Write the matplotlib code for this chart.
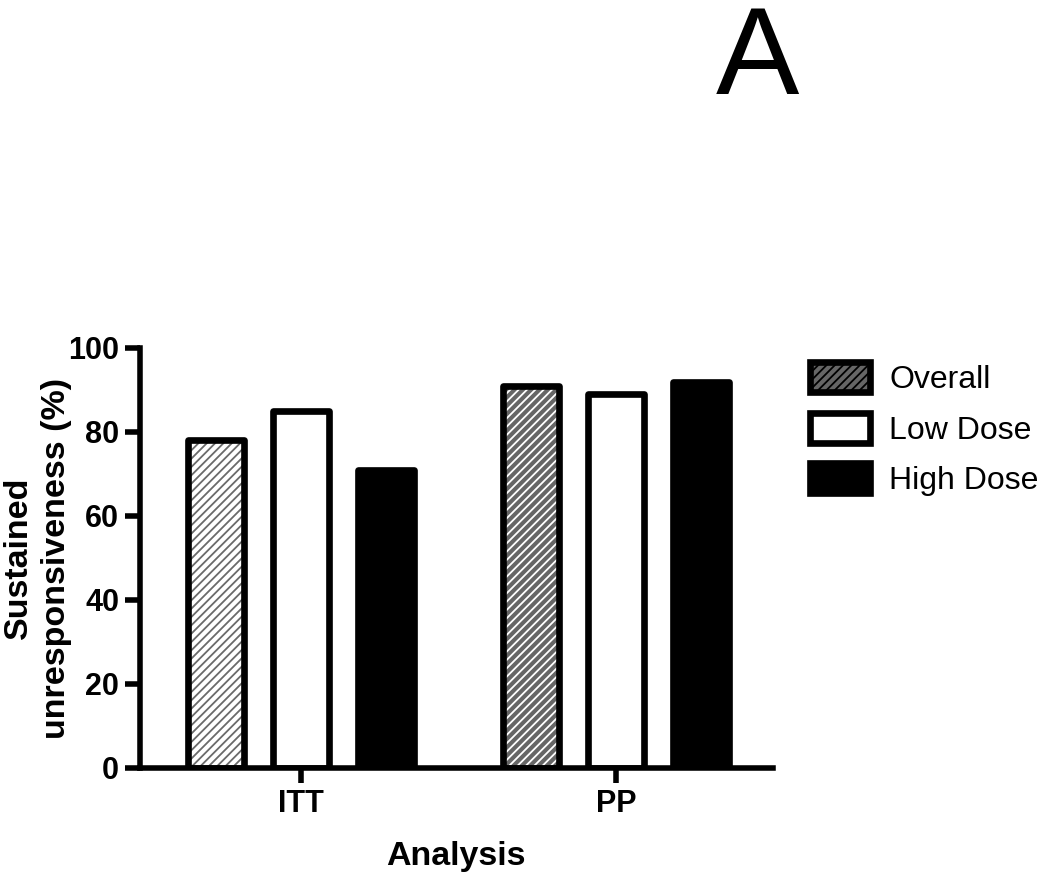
import matplotlib.pyplot as plt
import numpy as np
from matplotlib.patches import Rectangle

analyses = ["ITT", "PP"]
groups = ["Overall", "Low Dose", "High Dose"]
overall = [78, 91]
low_dose = [85, 89]
high_dose = [71, 92]

plt.rcParams['font.family'] = ['Liberation Sans', 'DejaVu Sans']
plt.rcParams['hatch.linewidth'] = 1.3

fig = plt.figure(figsize=(10.5, 8.75), dpi=100)
ax = fig.add_axes([0.1333, 0.1223, 0.6027, 0.48])

x = np.arange(len(analyses))
off = 0.27
w = 0.18
lw = 4.8

# overall: hatched, ITT light, PP dark
for i in range(len(analyses)):
    if i == 0:
        fc, hc = 'white', '#6a6a6a'
    else:
        fc, hc = '#666666', 'white'
    ax.bar(x[i] - off, overall[i], w, color=fc, edgecolor=hc, hatch='////', linewidth=0)
    ax.bar(x[i] - off, overall[i], w, fill=False, edgecolor='black', linewidth=lw,
           joinstyle='round')
ax.bar(x, low_dose, w, color='white', edgecolor='black', linewidth=lw, joinstyle='round')
ax.bar(x + off, high_dose, w, color='black', edgecolor='black', linewidth=lw,
       joinstyle='round')

ax.set_xlim(-0.511, 1.498)
ax.set_ylim(0, 100)
ax.set_yticks([0, 20, 40, 60, 80, 100])
ax.set_xticks(x)
ax.set_xticklabels(analyses)
for s in ['top', 'right']:
    ax.spines[s].set_visible(False)
for s in ['left', 'bottom']:
    ax.spines[s].set_linewidth(4)
ax.tick_params(width=4, length=11, labelsize=22, pad=4)
for lab in ax.get_xticklabels() + ax.get_yticklabels():
    lab.set_fontweight('bold')
ax.set_xlabel("Analysis", fontsize=24.5, fontweight='bold', labelpad=16)
ax.set_ylabel("Sustained\nunresponsiveness (%)", fontsize=24.5, fontweight='bold',
              linespacing=1.3)
ax.yaxis.set_label_coords(-0.107, 0.5)

# legend
h1 = Rectangle((0, 0), 1, 1, facecolor='#666666', edgecolor='black', hatch='////', linewidth=lw)
h2 = Rectangle((0, 0), 1, 1, facecolor='white', edgecolor='black', linewidth=lw)
h3 = Rectangle((0, 0), 1, 1, facecolor='black', edgecolor='black', linewidth=lw)
leg = ax.legend([h1, h2, h3], groups, loc='upper left', bbox_to_anchor=(1.038, 0.996),
                frameon=False, fontsize=23, handlelength=1.9, handleheight=1.07,
                labelspacing=0.55, handletextpad=0.6, borderaxespad=0)

fig.text(0.721, 0.996, "A", fontsize=90, ha='center', va='top')

fig.savefig("out.png", dpi=100)
